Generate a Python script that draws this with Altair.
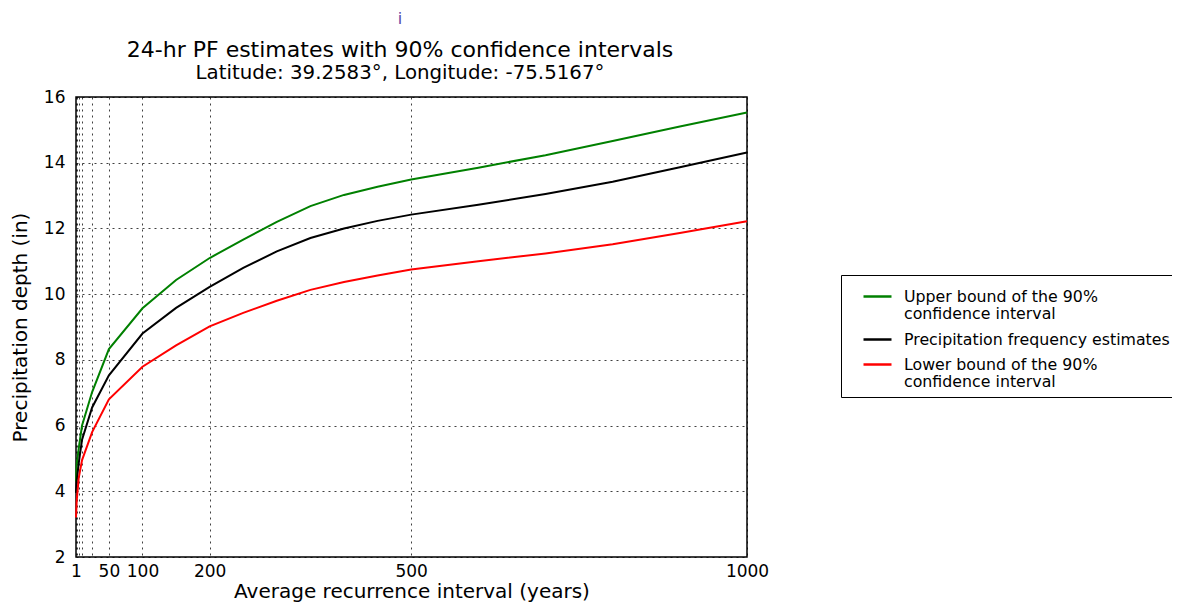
import altair as alt
import pandas as pd

# Average recurrence interval (years)
ari = [1, 2, 5, 10, 25, 50, 100, 150, 200, 250, 300, 350, 400, 450, 500, 600, 700, 800, 900, 1000]
# Precipitation depth (in)
upper = [4.3, 4.8, 5.3, 6.0, 7.02, 8.33, 9.57, 10.43, 11.1, 11.66, 12.2, 12.68, 13.02, 13.27, 13.49, 13.85, 14.23, 14.66, 15.1, 15.53]
estimate = [3.95, 4.3, 4.85, 5.57, 6.55, 7.53, 8.8, 9.58, 10.22, 10.8, 11.3, 11.71, 12.0, 12.23, 12.42, 12.72, 13.05, 13.42, 13.86, 14.31]
lower = [3.2, 3.7, 4.4, 4.95, 5.8, 6.8, 7.79, 8.44, 9.02, 9.43, 9.8, 10.13, 10.37, 10.57, 10.75, 11.0, 11.24, 11.52, 11.86, 12.22]

series_names = [
    "Upper bound of the 90%\nconfidence interval",
    "Precipitation frequency estimates",
    "Lower bound of the 90%\nconfidence interval",
]
series_colors = ["#008000", "#000000", "#ff0000"]

x_ticks = [1, 2, 5, 10, 25, 50, 100, 200, 500, 1000]
x_labeled = [1, 50, 100, 200, 500, 1000]
y_ticks = [2, 4, 6, 8, 10, 12, 14, 16]

title_text = "24-hr PF estimates with 90% confidence intervals"
subtitle_text = "Latitude: 39.2583°, Longitude: -75.5167°"
marker_text = "i"

rows = []
for name, vals in zip(series_names, [upper, estimate, lower]):
    for a, v in zip(ari, vals):
        rows.append({"ari": a, "depth": v, "series": name})
df = pd.DataFrame(rows)

label_expr = "indexof([" + ",".join(str(v) for v in x_labeled) + "], datum.value) >= 0 ? datum.label : ''"

lines = alt.Chart(df).mark_line(strokeWidth=2).encode(
    x=alt.X(
        "ari:Q",
        scale=alt.Scale(domain=[1, 1000], nice=False, zero=False),
        axis=alt.Axis(
            values=x_ticks,
            format="d",
            labelExpr=label_expr,
            title="Average recurrence interval (years)",
            labelPadding=6,
            titlePadding=2,
            labelOverlap=False,
            labelBound=False,
            labelFlush=False,
        ),
    ),
    y=alt.Y(
        "depth:Q",
        scale=alt.Scale(domain=[2, 16], nice=False, zero=False),
        axis=alt.Axis(
            values=y_ticks,
            title="Precipitation depth (in)",
            labelPadding=11,
            titlePadding=13,
        ),
    ),
    color=alt.Color(
        "series:N",
        scale=alt.Scale(domain=series_names, range=series_colors),
        legend=alt.Legend(
            title=None,
            orient="none",
            legendX=765,
            legendY=178,
            labelExpr="split(datum.label, '\\n')",
            symbolType="stroke",
            symbolSize=784,
            symbolStrokeWidth=2.5,
            labelFont="DejaVu Sans",
            labelFontSize=15.8,
            labelColor="black",
            labelLimit=500,
            labelOffset=11,
            strokeColor="black",
            fillColor="white",
            padding=6,
            rowPadding=1,
            symbolOffset=15,
        ),
    ),
)

texts = pd.DataFrame({
    "t": [marker_text, title_text, subtitle_text],
    "kind": ["marker", "title", "subtitle"],
})

marker = alt.Chart(texts).transform_filter(alt.datum.kind == "marker").mark_text(
    font="DejaVu Sans", fontSize=16, color="#5548a8", baseline="middle"
).encode(text="t:N", x=alt.value(324), y=alt.value(-78))

title_mark = alt.Chart(texts).transform_filter(alt.datum.kind == "title").mark_text(
    font="DejaVu Sans", fontSize=22, color="black", baseline="middle"
).encode(text="t:N", x=alt.value(324), y=alt.value(-47))

subtitle_mark = alt.Chart(texts).transform_filter(alt.datum.kind == "subtitle").mark_text(
    font="DejaVu Sans", fontSize=19.8, color="black", baseline="middle"
).encode(text="t:N", x=alt.value(324), y=alt.value(-24))

chart = (
    alt.layer(lines, marker, title_mark, subtitle_mark)
    .properties(
        width=671,
        height=460,
        padding={"left": 68, "top": 89, "right": 425, "bottom": 46},
        autosize=alt.AutoSizeParams(type="none"),
    )
    .configure_view(stroke="black", strokeWidth=1.5)
    .configure_axis(
        labelFont="DejaVu Sans",
        labelFontSize=17,
        labelColor="black",
        titleFont="DejaVu Sans",
        titleFontSize=20,
        titleFontWeight="normal",
        titleColor="black",
        domain=False,
        ticks=False,
        tickSize=0,
        grid=True,
        gridColor="black",
        gridOpacity=0.75,
        gridDash=[2, 4],
        gridWidth=1,
    )
)

chart.save("out.html", embed_options={"renderer": "svg", "actions": False})
